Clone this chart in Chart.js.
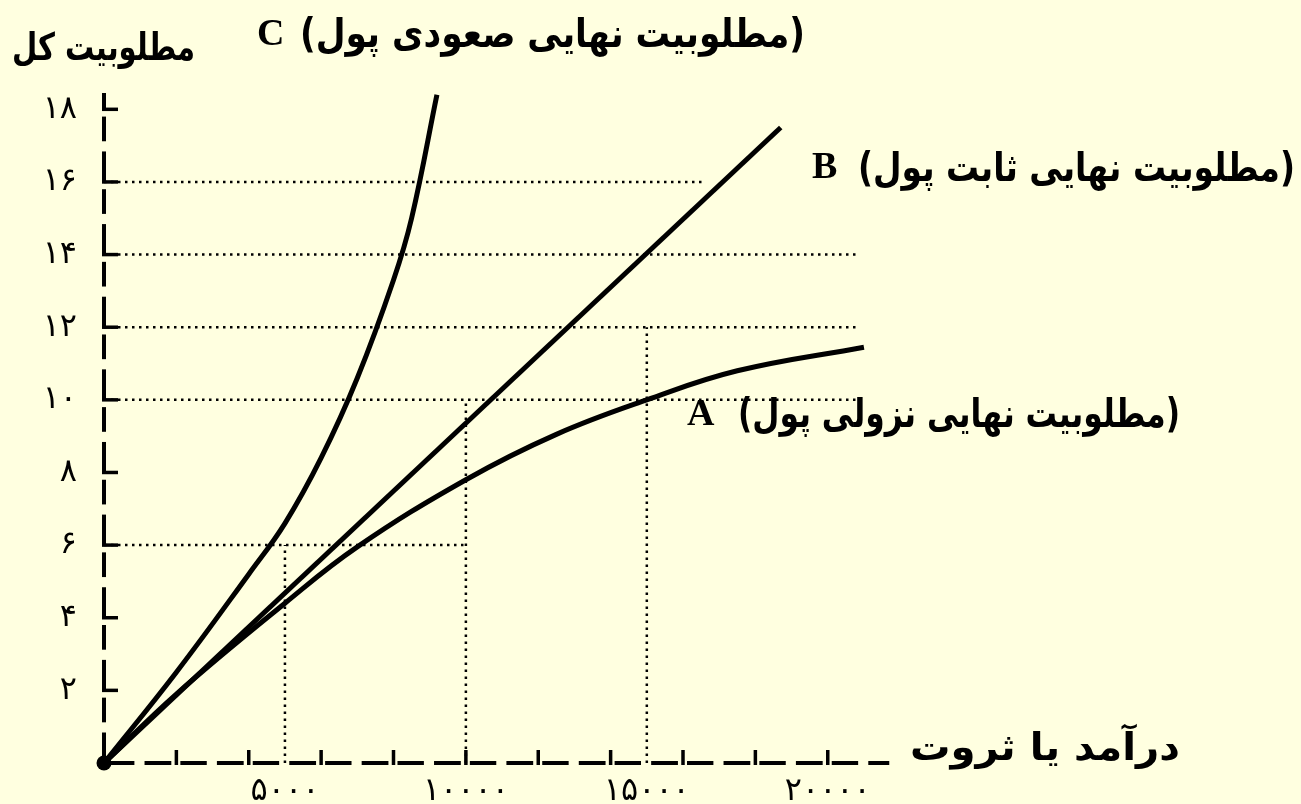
<!DOCTYPE html>
<html>
<head>
<meta charset="utf-8">
<script src="https://cdn.jsdelivr.net/npm/chart.js@4.4.1/dist/chart.umd.min.js"></script>
<style>
html, body { margin: 0; padding: 0; background: #FFFFE0; }
</style>
</head>
<body>
<canvas id="chart" width="1301" height="804"></canvas>
<script>
// x = income, y = total utility
const curveA_x = [0, 2000, 5000, 7000, 10000, 12500, 15000, 17500, 21000];
const curveA_y = [0, 1.9, 4.4, 5.95, 7.8, 9.05, 10.0, 10.8, 11.45];
const curveB_x = [0, 18700];
const curveB_y = [0, 17.5];
const curveC_x = [0, 2000, 4000, 5000, 6000, 7000, 8000, 8500, 9200];
const curveC_y = [0, 2.5, 5.2, 6.6, 8.4, 10.6, 13.3, 15.0, 18.4];

// dotted guide lines
const hGuideY = [16, 14, 12, 10, 6];
const hGuideEnd = [16600, 20800, 20800, 20800, 10000];
const vGuideX = [5000, 10000, 15000];
const vGuideTop = [6, 10, 12];

const xTickValues = [5000, 10000, 15000, 20000];
const yTickValues = [2, 4, 6, 8, 10, 12, 14, 16, 18];

const labelA = "(مطلوبیت نهایی نزولی پول)";
const labelB = "(مطلوبیت نهایی ثابت پول)";
const labelC = "(مطلوبیت نهایی صعودی پول)";
const yTitle = "مطلوبیت کل";
const xTitle = "درآمد یا ثروت";

const faFont = "'DejaVu Sans', sans-serif";
const latinFont = "'Liberation Serif', 'Times New Roman', serif";

function toFa(n) {
    return String(n).replace(/\d/g, d => "۰۱۲۳۴۵۶۷۸۹"[d]);
}

function pts(xs, ys) {
    return xs.map((x, i) => ({ x: x, y: ys[i] }));
}

function curve(xs, ys) {
    return {
        data: pts(xs, ys),
        borderColor: "#000",
        borderWidth: 5,
        pointRadius: 0,
        fill: false,
        tension: 0.4,
    };
}

function guide(data) {
    return {
        data: data,
        borderColor: "#000",
        borderWidth: 2.5,
        borderDash: [2.5, 4.5],
        pointRadius: 0,
        fill: false,
        tension: 0,
    };
}

const datasets = [
    curve(curveA_x, curveA_y),
    curve(curveB_x, curveB_y),
    curve(curveC_x, curveC_y),
];
hGuideY.forEach((y, i) => datasets.push(guide([{ x: 0, y: y }, { x: hGuideEnd[i], y: y }])));
vGuideX.forEach((x, i) => datasets.push(guide([{ x: x, y: 0 }, { x: x, y: vGuideTop[i] }])));

// draws text squeezed to a given width, right edge at x
function fitText(ctx, text, rightX, baseY, width, font, rtl) {
    ctx.save();
    ctx.font = font;
    ctx.direction = rtl ? "rtl" : "ltr";
    ctx.textAlign = "right";
    ctx.textBaseline = "alphabetic";
    const w = ctx.measureText(text).width;
    ctx.translate(rightX, baseY);
    ctx.scale(width / w, 1);
    ctx.fillText(text, 0, 0);
    ctx.restore();
}

const axesPlugin = {
    id: "axes",
    afterDatasetsDraw(chart) {
        const ctx = chart.ctx;
        const xs = chart.scales.x;
        const ys = chart.scales.y;
        const x0 = xs.getPixelForValue(0);
        const y0 = ys.getPixelForValue(0);
        ctx.save();
        ctx.strokeStyle = "#000";
        ctx.fillStyle = "#000";
        ctx.lineWidth = 4;
        ctx.lineCap = "butt";

        // x axis: dashes with small upright ticks every 2000
        const xEnd = xs.getPixelForValue(21700);
        let prev = x0;
        for (let v = 2000; v <= 22000; v += 2000) {
            const p = Math.min(xs.getPixelForValue(v), xEnd);
            const L = xs.getPixelForValue(v) - prev;
            const segs = [[prev + 0.055 * L, prev + 0.42 * L], [prev + 0.56 * L, prev + 0.93 * L]];
            segs.forEach(s => {
                const a = Math.max(s[0], x0 + 6), b = Math.min(s[1], xEnd);
                if (b > a) {
                    ctx.beginPath(); ctx.moveTo(a, y0); ctx.lineTo(b, y0); ctx.stroke();
                }
            });
            if (v <= 20000) {
                ctx.lineWidth = 3.5;
                ctx.beginPath(); ctx.moveTo(p, y0 + 2); ctx.lineTo(p, y0 - 13); ctx.stroke();
                ctx.lineWidth = 4;
            }
            prev = xs.getPixelForValue(v);
        }

        // y axis: dashes with small ticks to the right every 2
        let low = y0;
        for (let v = 2; v <= 18; v += 2) {
            const up = ys.getPixelForValue(v);
            const L = low - up;
            [[up + 0.1 * L, up + 0.44 * L], [up + 0.58 * L, low]].forEach(s => {
                ctx.beginPath(); ctx.moveTo(x0, s[0]); ctx.lineTo(x0, s[1]); ctx.stroke();
            });
            ctx.lineWidth = 3.5;
            ctx.beginPath(); ctx.moveTo(x0 - 2, up); ctx.lineTo(x0 + 14, up); ctx.stroke();
            ctx.lineWidth = 4;
            low = up;
        }
        const top = ys.getPixelForValue(18.45);
        ctx.beginPath(); ctx.moveTo(x0, top); ctx.lineTo(x0, low); ctx.stroke();

        // origin dot
        ctx.beginPath();
        ctx.arc(x0, y0, 7.5, 0, Math.PI * 2);
        ctx.fill();

        // titles and curve names
        fitText(ctx, yTitle, 195, 60, 183, "bold 38px " + faFont, true);
        fitText(ctx, xTitle, 1180, 760, 270, "bold 38px " + faFont, true);
        fitText(ctx, labelC, 805, 47, 505, "bold 40px " + faFont, true);
        fitText(ctx, labelB, 1295, 181, 437, "bold 40px " + faFont, true);
        fitText(ctx, labelA, 1180, 427, 442, "bold 40px " + faFont, true);

        ctx.font = "bold 38px " + latinFont;
        ctx.textAlign = "left";
        ctx.textBaseline = "alphabetic";
        ctx.direction = "ltr";
        ctx.fillText("C", 257, 45);
        ctx.fillText("B", 812, 178);
        ctx.fillText("A", 687, 425);
        ctx.restore();
    },
};

const config = {
    type: "line",
    data: { datasets: datasets },
    options: {
        responsive: false,
        animation: false,
        devicePixelRatio: 1,
        layout: { padding: { top: 73, right: 39, left: 0, bottom: 0 } },
        plugins: {
            legend: { display: false },
            tooltip: { enabled: false },
        },
        scales: {
            x: {
                type: "linear",
                min: 0,
                max: 32000,
                grid: { display: false, drawTicks: false },
                border: { display: false },
                afterFit: (s) => { s.height = 41; },
                afterBuildTicks: (s) => { s.ticks = xTickValues.map(v => ({ value: v })); },
                ticks: {
                    padding: 9,
                    color: "#000",
                    maxRotation: 0,
                    autoSkip: false,
                    font: { family: faFont, size: 32 },
                    callback: (v) => toFa(v),
                },
            },
            y: {
                type: "linear",
                min: 0,
                max: 19,
                grid: { display: false, drawTicks: false },
                border: { display: false },
                afterFit: (s) => {
                    s.width = 104;
                    s.paddingTop = 0;
                    s.paddingBottom = 0;
                },
                afterBuildTicks: (s) => { s.ticks = yTickValues.map(v => ({ value: v })); },
                ticks: {
                    padding: 27,
                    color: "#000",
                    font: { family: faFont, size: 32 },
                    callback: (v) => toFa(v),
                },
            },
        },
    },
    plugins: [axesPlugin],
};

const myChart = new Chart(document.getElementById("chart"), config);
</script>
</body>
</html>
